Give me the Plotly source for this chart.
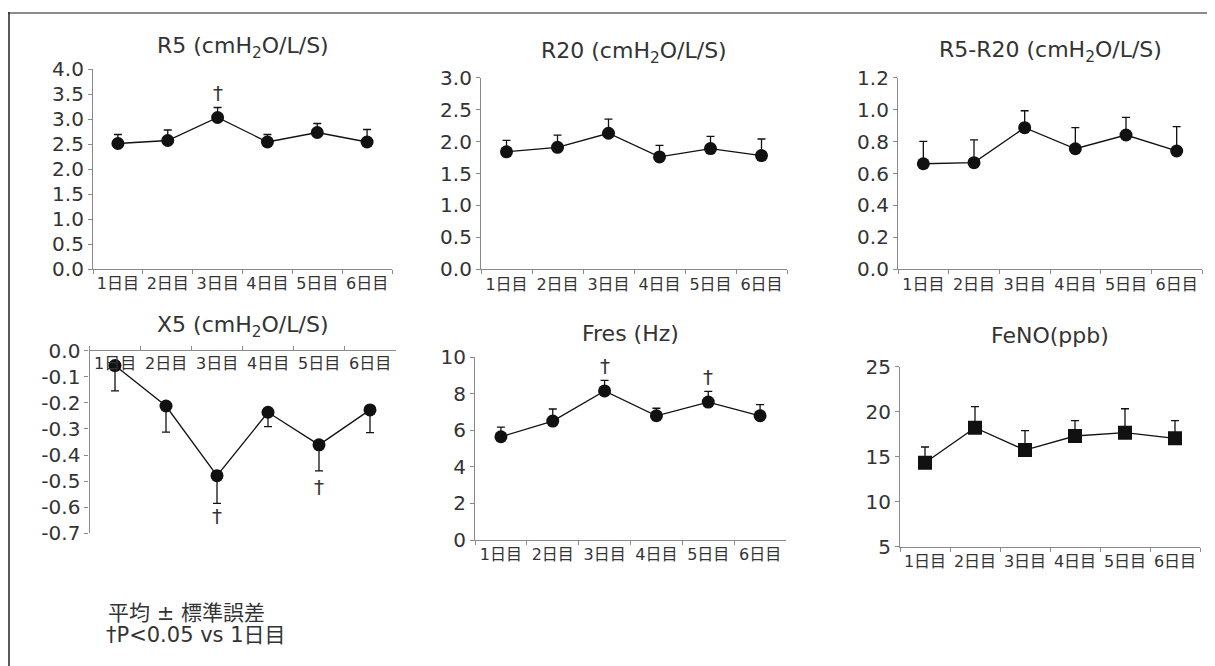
import plotly.graph_objects as go

W, H = 1215, 666
OFF = 8  # page body margin compensation (px)

days = ["1日目", "2日目", "3日目", "4日目", "5日目", "6日目"]

r5_mean = [2.51, 2.57, 3.03, 2.54, 2.73, 2.54]
r5_se = [0.18, 0.21, 0.20, 0.15, 0.18, 0.25]

r20_mean = [1.84, 1.91, 2.13, 1.76, 1.89, 1.78]
r20_se = [0.18, 0.19, 0.22, 0.18, 0.19, 0.26]

r5r20_mean = [0.661, 0.668, 0.887, 0.755, 0.841, 0.741]
r5r20_se = [0.140, 0.142, 0.106, 0.132, 0.110, 0.152]

x5_mean = [-0.057, -0.212, -0.479, -0.236, -0.361, -0.227]
x5_se = [0.097, 0.100, 0.106, 0.055, 0.100, 0.087]

fres_mean = [5.65, 6.51, 8.16, 6.80, 7.55, 6.80]
fres_se = [0.53, 0.66, 0.58, 0.41, 0.59, 0.61]

feno_mean = [14.33, 18.22, 15.74, 17.30, 17.67, 17.04]
feno_se = [1.75, 2.34, 2.15, 1.70, 2.66, 1.96]

titles = ["R5 (cmH<sub>2</sub>O/L/S)", "R20 (cmH<sub>2</sub>O/L/S)",
          "R5-R20 (cmH<sub>2</sub>O/L/S)", "X5 (cmH<sub>2</sub>O/L/S)",
          "Fres (Hz)", "FeNO(ppb)"]

r5_ticks = [0.0, 0.5, 1.0, 1.5, 2.0, 2.5, 3.0, 3.5, 4.0]
r20_ticks = [0.0, 0.5, 1.0, 1.5, 2.0, 2.5, 3.0]
r5r20_ticks = [0.0, 0.2, 0.4, 0.6, 0.8, 1.0, 1.2]
x5_ticks = [0.0, -0.1, -0.2, -0.3, -0.4, -0.5, -0.6, -0.7]
fres_ticks = [0, 2, 4, 6, 8, 10]
feno_ticks = [5, 10, 15, 20, 25]

# significance marks: (panel index, day, y)
daggers = [(0, "3日目", 3.52), (3, "3日目", -0.633), (3, "5日目", -0.522),
           (4, "3日目", 9.54), (4, "5日目", 8.94)]

footnote1 = "平均 ± 標準誤差"
footnote2 = "†P<0.05 vs 1日目"

FONT = "DejaVu Sans, Noto Sans CJK JP, sans-serif"
TXT = "#333333"
AX = "#8a8a8a"


def px(x):
    return (x - OFF) / W


def py(y):
    return 1 - (y - OFF) / H


# panel geometry in pixels: (x0, x1, ytop, ybottom)
geo = [
    (93, 392, 69, 269),
    (481, 787, 77.7, 269.3),
    (898, 1202, 77.7, 269.3),
    (89.5, 395.5, 350.7, 533.3),
    (475, 786, 357.3, 540),
    (900, 1200, 366.7, 546.7),
]
title_y = [48, 53, 52, 327, 333, 335]

panels = [
    (r5_mean, r5_se, r5_ticks, [0, 4], "%.1f", "circle", False),
    (r20_mean, r20_se, r20_ticks, [0, 3], "%.1f", "circle", False),
    (r5r20_mean, r5r20_se, r5r20_ticks, [0, 1.2], "%.1f", "circle", False),
    (x5_mean, x5_se, x5_ticks, [-0.7, 0], "%.1f", "circle", True),
    (fres_mean, fres_se, fres_ticks, [0, 10], "%d", "circle", False),
    (feno_mean, feno_se, feno_ticks, [5, 25], "%d", "square", False),
]

fig = go.Figure()
layout = dict(
    template="none",
    width=W, height=H, margin=dict(l=0, r=0, t=0, b=0, pad=0),
    paper_bgcolor="white", plot_bgcolor="white", showlegend=False,
    font=dict(family=FONT, color=TXT),
)
annotations = []
shapes = []

for i, (mean, se, ticks, rng, fmt, sym, down) in enumerate(panels):
    n = i + 1
    xa = "x" if n == 1 else f"x{n}"
    ya = "y" if n == 1 else f"y{n}"
    x0, x1, yt, yb = geo[i]
    zeros = [0] * len(se)
    err = dict(type="data", symmetric=False,
               array=zeros if down else se,
               arrayminus=se if down else zeros,
               color="#111111", thickness=1.3, width=4)
    fig.add_trace(go.Scatter(
        x=days, y=mean, mode="lines+markers", xaxis=xa, yaxis=ya,
        line=dict(color="#111111", width=1.3),
        marker=dict(symbol=sym, size=14 if sym == "square" else 13,
                    color="#111111", line=dict(width=0)),
        error_y=err, hoverinfo="skip"))

    xkey = "xaxis" if n == 1 else f"xaxis{n}"
    ykey = "yaxis" if n == 1 else f"yaxis{n}"
    xd = dict(
        domain=[px(x0), px(x1)], anchor=ya, type="category",
        categoryorder="array", categoryarray=days, range=[-0.5, 5.5],
        showline=True, linecolor=AX, linewidth=1.2, showgrid=False,
        zeroline=False, ticks="outside", tickson="boundaries", ticklen=4,
        tickcolor=AX, tickwidth=1, tickangle=0, automargin=False,
        tickfont=dict(family=FONT, size=16, color=TXT), fixedrange=True,
    )
    if down:
        xd.update(side="top", showticklabels=False)
        for d in days:
            annotations.append(dict(
                text=d, x=d, y=0, xref=xa, yref=ya, showarrow=False,
                xanchor="center", yanchor="top", yshift=-1,
                font=dict(family=FONT, size=16, color=TXT)))
    layout[xkey] = xd
    layout[ykey] = dict(
        domain=[py(yb), py(yt)], anchor=xa, range=rng,
        showline=True, linecolor=AX, linewidth=1.2, showgrid=False,
        zeroline=False, ticks="outside", ticklen=4, tickcolor=AX,
        tickwidth=1, tickvals=ticks, automargin=False,
        ticktext=[(fmt % t).replace("−", "-") for t in ticks],
        tickfont=dict(family=FONT, size=20, color=TXT), fixedrange=True,
    )
    annotations.append(dict(
        text=titles[i], xref="paper", yref="paper",
        x=px((x0 + x1) / 2), y=py(title_y[i]),
        xanchor="center", yanchor="middle", showarrow=False,
        font=dict(family=FONT, size=22, color=TXT)))

for (p, d, yv) in daggers:
    n = p + 1
    annotations.append(dict(
        text="†", x=d, y=yv,
        xref="x" if n == 1 else f"x{n}", yref="y" if n == 1 else f"y{n}",
        showarrow=False, xanchor="center", yanchor="middle",
        font=dict(family=FONT, size=20, color=TXT)))

annotations.append(dict(
    text=footnote1, xref="paper", yref="paper", x=px(106), y=py(613),
    xanchor="left", yanchor="middle", showarrow=False,
    font=dict(family=FONT, size=21, color=TXT)))
annotations.append(dict(
    text=footnote2, xref="paper", yref="paper", x=px(104), y=py(635),
    xanchor="left", yanchor="middle", showarrow=False,
    font=dict(family=FONT, size=21, color=TXT)))

shapes.append(dict(type="line", xref="paper", yref="paper",
                   x0=px(8), x1=1.0, y0=py(13), y1=py(13),
                   line=dict(color="#8c8c8c", width=2)))
shapes.append(dict(type="line", xref="paper", yref="paper",
                   x0=px(9), x1=px(9), y0=0, y1=py(12),
                   line=dict(color="#222222", width=1.5)))

layout["annotations"] = annotations
layout["shapes"] = shapes
fig.update_layout(**layout)

fig.write_html("out.html")
